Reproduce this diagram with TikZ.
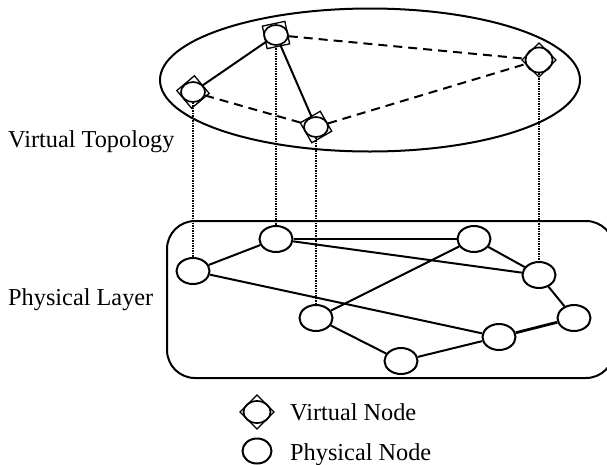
\documentclass[tikz,border=0pt]{standalone}
\usepackage{fontspec}
\setmainfont{Liberation Serif}
\usetikzlibrary{shapes.geometric}
\begin{document}
\begin{tikzpicture}[x=1pt,y=-1pt,
  font=\fontsize{24.3}{28}\selectfont,
  pnode/.style={draw,ellipse,line width=2pt,inner sep=0pt,minimum width=33pt,minimum height=26pt},
  vel/.style={draw,ellipse,line width=1.7pt,inner sep=0pt,minimum width=24pt,minimum height=20pt},
  vsq/.style={draw,rectangle,line width=1.3pt,inner sep=0pt,minimum size=23pt},
  edge/.style={line width=2pt},
  vdash/.style={line width=2pt,dash pattern=on 9pt off 6pt},
  vdot/.style={line width=1.3pt,dash pattern=on 1.3pt off 1.2pt},
  lbl/.style={anchor=base west,inner sep=0pt}]
\useasboundingbox (0,0) rectangle (607,464);

% virtual topology
\node[draw,ellipse,line width=2pt,minimum width=420pt,minimum height=143pt,inner sep=0pt] (vt) at (370,80) {};
\node[vsq,rotate=12] (v1s) at (276,35) {};
\node[vel] (v1) at (276,35) {};
\node[vsq,rotate=40] (v2s) at (193,92) {};
\node[vel] (v2) at (193,92) {};
\node[vsq,rotate=30] (v3s) at (316,127) {};
\node[vel] (v3) at (316,127) {};
\node[vsq,rotate=45,minimum size=24pt] (v4s) at (539,60) {};
\node[vel,minimum width=27pt,minimum height=25pt] (v4) at (539,60) {};

\draw[edge] (v2) -- (v1);
\draw[edge] (v1) -- (v3);
\draw[vdash] (v1) -- (v4);
\draw[vdash] (v2) -- (v3);
\draw[vdash] (v3) -- (v4);

% physical layer
\draw[line width=2pt,rounded corners=28pt] (167,221) rectangle (614,378);
\node[pnode] (p1) at (193,271) {};
\node[pnode] (p2) at (276,239) {};
\node[pnode] (p3) at (474,239) {};
\node[pnode] (p4) at (539,275) {};
\node[pnode] (p5) at (574,318) {};
\node[pnode] (p6) at (499,337) {};
\node[pnode] (p7) at (401,361) {};
\node[pnode] (p8) at (316,318) {};

\draw[edge] (p1) -- (p2);
\draw[edge] (p2) -- (p3);
\draw[edge] (p2) -- (p4);
\draw[edge] (p3) -- (p4);
\draw[edge] (p3) -- (p8);
\draw[edge] (p1) -- (p6);
\draw[edge] (p4) -- (p5);
\draw[line width=2.8pt] (p5) -- (p6);
\draw[edge] (p6) -- (p7);
\draw[edge] (p7) -- (p8);

% mapping
\draw[vdot] (v2.south) -- (p1.north);
\draw[vdot] (v1.south) -- (p2.north);
\draw[vdot] (v3.south) -- (p8.north);
\draw[vdot] (v4.south) -- (p4.north);

% labels
\node[lbl] (lv) at (8,147) {Virtual Topology};
\node[lbl] (lp) at (8,305) {Physical Layer};

% legend
\node[vsq,rotate=45,minimum size=24pt] (legvs) at (257,412) {};
\node[vel,minimum width=27pt,minimum height=22pt] (legv) at (257,412) {};
\node[pnode,minimum width=29pt,minimum height=25pt] (legp) at (257,451) {};
\node[lbl] (legvt) at (290,420) {Virtual Node};
\node[lbl] (legpt) at (290,460) {Physical Node};
\end{tikzpicture}
\end{document}
